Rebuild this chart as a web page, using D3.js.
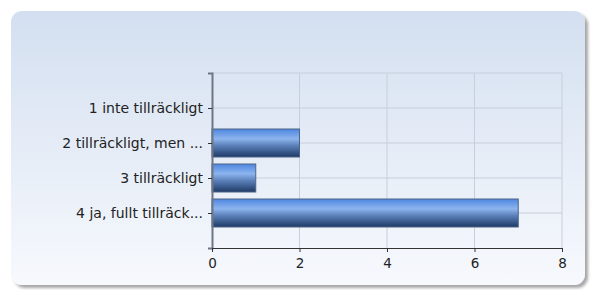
<!DOCTYPE html>
<html>
<head>
<meta charset="utf-8">
<script src="https://cdn.jsdelivr.net/npm/d3@7"></script>
<style>
  body { margin: 0; background: #fff; }
  svg { display: block; }
</style>
</head>
<body>
<svg width="594" height="290"></svg>
<script>
// chart data
let categories = ['1 inte tillräckligt', '2 tillräckligt, men ...', '3 tillräckligt', '4 ja, fullt tillräck...'];
let values = [0, 2, 1, 7];
let xTicks = [0, 2, 4, 6, 8];

let svg = d3.select('svg');
let defs = svg.append('defs');

// panel background gradient
let bg = defs.append('linearGradient').attr('id', 'bg')
    .attr('x1', 0).attr('y1', 0).attr('x2', 0).attr('y2', 1);
bg.append('stop').attr('offset', '0%').attr('stop-color', '#d3dff0');
bg.append('stop').attr('offset', '100%').attr('stop-color', '#f7f9fd');

// bar gradient
let bar = defs.append('linearGradient').attr('id', 'bar')
    .attr('x1', 0).attr('y1', 0).attr('x2', 0).attr('y2', 1);
bar.append('stop').attr('offset', '0%').attr('stop-color', '#4d86e0');
bar.append('stop').attr('offset', '35%').attr('stop-color', '#8db4ee');
bar.append('stop').attr('offset', '60%').attr('stop-color', '#5a7fb8');
bar.append('stop').attr('offset', '100%').attr('stop-color', '#1e3a66');

let shadow = defs.append('filter').attr('id', 'shadow')
    .attr('x', '-5%').attr('y', '-5%').attr('width', '110%').attr('height', '110%');
shadow.append('feDropShadow').attr('dx', 3).attr('dy', 3).attr('stdDeviation', 1.5)
    .attr('flood-color', '#000').attr('flood-opacity', 0.35);

svg.append('rect')
    .attr('x', 11).attr('y', 11).attr('width', 574).attr('height', 274)
    .attr('rx', 11)
    .attr('fill', 'url(#bg)')
    .attr('filter', 'url(#shadow)');

let margin = {left: 212, right: 562, top: 73, bottom: 248};

let x = d3.scaleLinear().domain([0, 8]).range([margin.left, margin.right]);
let y = d3.scalePoint().domain(categories).range([margin.top, margin.bottom]).padding(1);

// grid
let grid = svg.append('g');
grid.selectAll('line.v')
    .data(xTicks.slice(1))
    .join('line')
    .attr('x1', d => x(d)).attr('x2', d => x(d))
    .attr('y1', margin.top).attr('y2', margin.bottom)
    .attr('stroke', '#c6cfdb').attr('stroke-width', 1);
grid.selectAll('line.h')
    .data([null].concat(categories))
    .join('line')
    .attr('x1', margin.left).attr('x2', margin.right)
    .attr('y1', d => d === null ? margin.top : y(d))
    .attr('y2', d => d === null ? margin.top : y(d))
    .attr('stroke', '#c6cfdb').attr('stroke-width', 1);

// bars
let barH = 28;
svg.append('g').selectAll('rect')
    .data(categories.map((c, i) => ({c: c, v: values[i]})).filter(d => d.v > 0))
    .join('rect')
    .attr('x', x(0))
    .attr('y', d => y(d.c) - barH / 2)
    .attr('width', d => x(d.v) - x(0))
    .attr('height', barH)
    .attr('fill', 'url(#bar)')
    .attr('stroke', '#4e6486')
    .attr('stroke-width', 1);

// axes
let font = '"DejaVu Sans", Verdana, sans-serif';
let yAxis = svg.append('g')
    .attr('transform', `translate(${margin.left},0)`)
    .call(d3.axisLeft(y).tickSize(4).tickSizeOuter(4).tickPadding(5));
yAxis.attr('font-family', font);
yAxis.select('.domain').attr('stroke', '#6c7684').attr('stroke-width', 2);
yAxis.selectAll('.tick line').attr('stroke', '#333');
yAxis.selectAll('.tick text').attr('font-size', 14).attr('fill', '#222');

let xAxis = svg.append('g')
    .attr('transform', `translate(0,${margin.bottom})`)
    .call(d3.axisBottom(x).tickValues(xTicks).tickSize(4).tickSizeOuter(4).tickPadding(6));
xAxis.attr('font-family', font);
xAxis.select('.domain').attr('stroke', '#333');
xAxis.selectAll('.tick line').attr('stroke', '#333');
xAxis.selectAll('.tick text').attr('font-size', 13.5).attr('fill', '#222');
</script>
</body>
</html>
